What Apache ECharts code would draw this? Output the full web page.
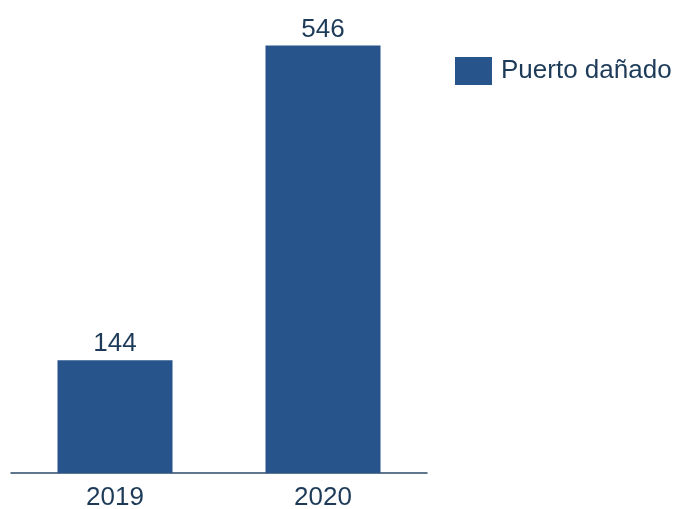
<!DOCTYPE html>
<html><head><meta charset="utf-8">
<script src="https://cdn.jsdelivr.net/npm/echarts@6/dist/echarts.min.js"></script>
<style>html,body{margin:0;padding:0;background:#fff}#c{width:675px;height:509px}</style>
</head><body><div id="c"></div>
<script>
const categories = ['2019', '2020'];
const seriesName = 'Puerto dañado';
const values = [144, 546];

const chart = echarts.init(document.getElementById('c'));
const txt = '#1d3b58';
chart.setOption({
  animation: false,
  textStyle: {fontFamily: 'Liberation Sans, Arial, sans-serif'},
  legend: {
    data: [seriesName], left: 455, top: 57, padding: 0, itemWidth: 37, itemHeight: 28, itemGap: 10,
    icon: 'rect',
    textStyle: {fontSize: 26, color: txt, fontFamily: 'Liberation Sans, Arial, sans-serif', padding: [0,0,0,4]}
  },
  grid: {left: 11, right: 248, top: 45.5, bottom: 36, containLabel: false, outerBoundsMode: 'none'},
  xAxis: {
    type: 'category', data: categories,
    axisLine: {lineStyle: {color: '#2b4a68', width: 1.5}},
    axisTick: {show: false},
    axisLabel: {fontSize: 26, color: txt, margin: 12, fontFamily: 'Liberation Sans, Arial, sans-serif'}
  },
  yAxis: {type: 'value', min: 0, max: 546, show: false, splitLine: {show: false}},
  series: [{
    name: seriesName, type: 'bar', data: values, barWidth: '55.3%',
    itemStyle: {color: '#27548a'},
    label: {show: true, position: 'top', distance: 3, fontSize: 26, color: txt, fontFamily: 'Liberation Sans, Arial, sans-serif'}
  }]
});
</script></body></html>
